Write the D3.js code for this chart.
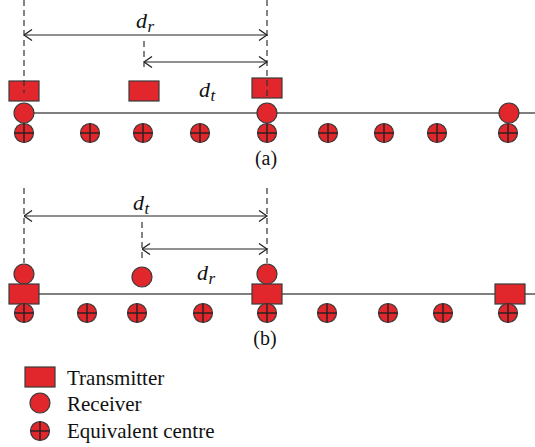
<!DOCTYPE html>
<html>
<head>
<meta charset="utf-8">
<script src="https://cdn.jsdelivr.net/npm/d3@7"></script>
<style>
  html, body { margin: 0; padding: 0; background: #fff; }
  svg { display: block; }
  svg text { font-family: "Liberation Serif", "Times New Roman", serif; }
</style>
</head>
<body>
<svg id="chart" width="535" height="447"></svg>
<script>
// Positions along the link, in units of distance from the leftmost node
const aTransmitters = [0, 120, 243];
const aReceivers = [0, 243, 485];
const aCentres = [0, 66, 119, 176, 243, 304, 360, 413, 484];

const bTransmitters = [0, 243, 486];
const bReceivers = [0, 118, 243];
const bCentres = [0, 63, 113, 179, 243, 303, 364, 419, 484];

// Distance annotations: [from, to]
const aSpans = { dr: [0, 243], dt: [120, 243] };
const bSpans = { dt: [0, 243], dr: [118, 243] };

const legendItems = ["Transmitter", "Receiver", "Equivalent centre"];

const RED = "#e1262c";
const EDGE = "#3a3a3a";
const LINE = "#555";

const svg = d3.select("#chart");
const x = d3.scaleLinear().domain([0, 484]).range([24, 508]);

// Arrowhead: open chevron
const defs = svg.append("defs");
defs.append("marker")
  .attr("id", "chev")
  .attr("viewBox", "0 0 10 12")
  .attr("refX", 9.5).attr("refY", 6)
  .attr("markerWidth", 10).attr("markerHeight", 12)
  .attr("markerUnits", "userSpaceOnUse")
  .attr("orient", "auto-start-reverse")
  .append("path")
  .attr("d", "M1.5,0.5 L9.5,6 L1.5,11.5")
  .attr("fill", "none")
  .attr("stroke", "#222")
  .attr("stroke-width", 1.3);

function transmitter(g, cx, cy) {
  g.append("rect")
    .attr("x", cx - 15).attr("y", cy - 10)
    .attr("width", 30).attr("height", 20)
    .attr("fill", RED).attr("stroke", EDGE).attr("stroke-width", 1.2);
}
function receiver(g, cx, cy, r = 10) {
  g.append("circle")
    .attr("cx", cx).attr("cy", cy).attr("r", r)
    .attr("fill", RED).attr("stroke", EDGE).attr("stroke-width", 1.2);
}
function centre(g, cx, cy, r = 9.5) {
  g.append("circle")
    .attr("cx", cx).attr("cy", cy).attr("r", r)
    .attr("fill", RED).attr("stroke", EDGE).attr("stroke-width", 1.2);
  g.append("line")
    .attr("x1", cx - r).attr("x2", cx + r).attr("y1", cy).attr("y2", cy)
    .attr("stroke", "#222").attr("stroke-width", 1.4);
  g.append("line")
    .attr("x1", cx).attr("x2", cx).attr("y1", cy - r).attr("y2", cy + r)
    .attr("stroke", "#222").attr("stroke-width", 1.4);
}
function dashed(g, px, y1, y2) {
  g.append("line")
    .attr("x1", px).attr("x2", px).attr("y1", y1).attr("y2", y2)
    .attr("stroke", "#333").attr("stroke-width", 1.2)
    .attr("stroke-dasharray", "6,4");
}
function span(g, from, to, y) {
  g.append("line")
    .attr("x1", x(from)).attr("x2", x(to)).attr("y1", y).attr("y2", y)
    .attr("stroke", "#222").attr("stroke-width", 1.2)
    .attr("marker-start", "url(#chev)")
    .attr("marker-end", "url(#chev)");
}
function dLabel(g, px, py, sub) {
  const t = g.append("text")
    .attr("x", px).attr("y", py)
    .style("font-style", "italic")
    .style("font-size", "22px").attr("fill", "#111");
  t.append("tspan").text("d");
  t.append("tspan").style("font-size", "17px").attr("dy", 4).attr("dx", 0.5).text(sub);
}
function caption(g, px, py, s) {
  g.append("text")
    .attr("x", px).attr("y", py).attr("text-anchor", "middle")
    .style("font-size", "20px").attr("fill", "#111")
    .text(s);
}

// ---------- Panel (a) ----------
const ga = svg.append("g");
const aLineY = 113;
ga.append("line")
  .attr("x1", x(0)).attr("x2", 535).attr("y1", aLineY).attr("y2", aLineY)
  .attr("stroke", LINE).attr("stroke-width", 1.5);

aTransmitters.forEach((d, i) => transmitter(ga, x(d), i === 2 ? 88 : 91));
aReceivers.forEach(d => receiver(ga, x(d), aLineY));
aCentres.forEach(d => centre(ga, x(d), 133));

dashed(ga, x(aSpans.dr[0]), 0, 93);
dashed(ga, x(aSpans.dr[1]), 0, 96);
dashed(ga, x(aSpans.dt[0]), 41, 70);
span(ga, aSpans.dr[0], aSpans.dr[1], 35);
span(ga, aSpans.dt[0], aSpans.dt[1], 62);
dLabel(ga, 136, 28, "r");
dLabel(ga, 199, 97, "t");
caption(ga, 266, 165, "(a)");

// ---------- Panel (b) ----------
const gb = svg.append("g");
const bLineY = 294;
gb.append("line")
  .attr("x1", x(0)).attr("x2", 535).attr("y1", bLineY).attr("y2", bLineY)
  .attr("stroke", LINE).attr("stroke-width", 1.5);

dashed(gb, x(bSpans.dt[0]), 188, 263);
dashed(gb, x(bSpans.dt[1]), 188, 263);
dashed(gb, x(bSpans.dr[0]), 222, 262);
span(gb, bSpans.dt[0], bSpans.dt[1], 216);
span(gb, bSpans.dr[0], bSpans.dr[1], 249);

bReceivers.forEach((d, i) => receiver(gb, x(d), i === 1 ? 277 : 274));
bTransmitters.forEach(d => transmitter(gb, x(d), bLineY));
bCentres.forEach(d => centre(gb, x(d), 313));

dLabel(gb, 133, 210, "t");
dLabel(gb, 197, 280, "r");
caption(gb, 265, 345, "(b)");

// ---------- Legend ----------
const gl = svg.append("g");
const legendY = [377, 403, 431];
const legendBase = [385, 411, 438];
transmitter(gl, 40, legendY[0]);
receiver(gl, 40, legendY[1]);
centre(gl, 40, legendY[2]);
gl.selectAll("text.leg")
  .data(legendItems)
  .join("text")
  .attr("class", "leg")
  .attr("x", 67)
  .attr("y", (d, i) => legendBase[i])
  .style("font-size", "21px").attr("fill", "#111")
  .text(d => d);
</script>
</body>
</html>
